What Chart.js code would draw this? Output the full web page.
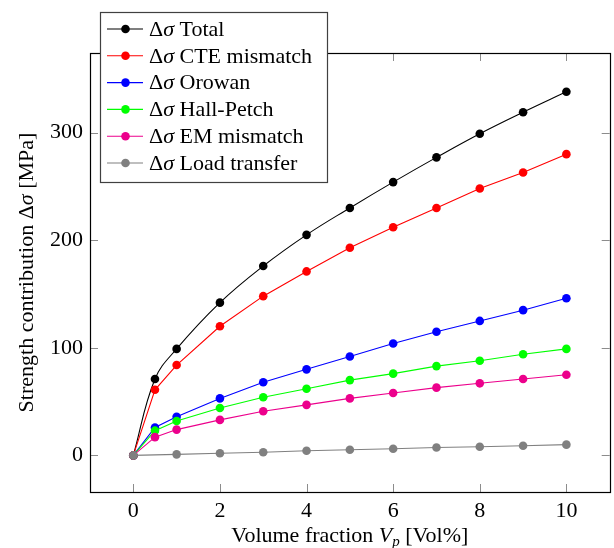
<!DOCTYPE html>
<html>
<head>
<meta charset="utf-8">
<script src="https://cdn.jsdelivr.net/npm/chart.js@4.4.1/dist/chart.umd.min.js"></script>
<style>
  html, body { margin: 0; padding: 0; background: #fff; }
  #wrap { width: 614px; height: 548px; }
</style>
</head>
<body>
<div id="wrap"><canvas id="chart" width="614" height="548"></canvas></div>
<script>
// volume fraction (Vol%)
const vp = [0, 0.5, 1, 2, 3, 4, 5, 6, 7, 8, 9, 10];
const vpLoad = [0, 1, 2, 3, 4, 5, 6, 7, 8, 9, 10];

// strength contributions in MPa
const total = [0, 71, 99, 142, 176, 205, 230, 254, 277, 299, 319, 338];
const cte = [0, 61, 84, 120, 148, 171, 193, 212, 230, 248, 263, 280];
const orowan = [0, 26, 36, 53, 68, 80, 92, 104, 115, 125, 135, 146];
const hallPetch = [0, 23, 32, 44, 54, 62, 70, 76, 83, 88, 94, 99];
const emMismatch = [0, 17, 24, 33, 41, 47, 53, 58, 63, 67, 71, 75];
const loadTransfer = [0, 1, 2, 3, 4.3, 5.3, 6.2, 7.3, 8, 9, 10];

const seriesNames = ['Total', 'CTE mismatch', 'Orowan', 'Hall-Petch', 'EM mismatch', 'Load transfer'];
const seriesColors = ['#000000', '#ff0000', '#0000ff', '#00ff00', '#ec008c', '#808080'];

const xTicks = [0, 2, 4, 6, 8, 10];
const yTicks = [0, 100, 200, 300];

const FONT = '"Liberation Serif", "Times New Roman", serif';
const FS = 22;

function pts(xs, ys) {
    return xs.map((x, i) => ({ x: x, y: ys[i] }));
}

const allData = [
    pts(vp, total),
    pts(vp, cte),
    pts(vp, orowan),
    pts(vp, hallPetch),
    pts(vp, emMismatch),
    pts(vpLoad, loadTransfer)
];

const datasets = allData.map((d, i) => ({
    label: seriesNames[i],
    data: d,
    borderColor: seriesColors[i],
    backgroundColor: seriesColors[i],
    pointBackgroundColor: seriesColors[i],
    pointBorderWidth: 0,
    pointRadius: 4.3,
    borderWidth: 1.1,
    tension: i === 0 ? 0.4 : 0,
    order: seriesNames.length - 1 - i
}));

// draws text pieces left to right, some italic
function drawPieces(ctx, pieces, x, y) {
    let w = 0;
    pieces.forEach(p => {
        ctx.font = (p.it ? 'italic ' : '') + (p.size || FS) + 'px ' + FONT;
        w += ctx.measureText(p.t).width;
    });
    let cx = x - w / 2;
    pieces.forEach(p => {
        ctx.font = (p.it ? 'italic ' : '') + (p.size || FS) + 'px ' + FONT;
        ctx.fillText(p.t, cx, y + (p.dy || 0));
        cx += ctx.measureText(p.t).width;
    });
}

const boxPlugin = {
    id: 'boxPlugin',
    afterDraw(chart) {
        const ctx = chart.ctx;
        const a = chart.chartArea;
        const xs = chart.scales.x;
        const ys = chart.scales.y;
        ctx.save();

        // ticks inside the box, on all four sides
        ctx.strokeStyle = '#8c8c8c';
        ctx.lineWidth = 1;
        const tl = 8;
        xTicks.forEach(v => {
            const px = Math.round(xs.getPixelForValue(v)) + 0.5;
            ctx.beginPath();
            ctx.moveTo(px, a.bottom); ctx.lineTo(px, a.bottom - tl);
            ctx.moveTo(px, a.top); ctx.lineTo(px, a.top + tl);
            ctx.stroke();
        });
        yTicks.forEach(v => {
            const py = Math.round(ys.getPixelForValue(v)) + 0.5;
            ctx.beginPath();
            ctx.moveTo(a.left, py); ctx.lineTo(a.left + tl, py);
            ctx.moveTo(a.right, py); ctx.lineTo(a.right - tl, py);
            ctx.stroke();
        });

        // axis frame
        ctx.strokeStyle = '#000';
        ctx.lineWidth = 1.2;
        ctx.strokeRect(Math.round(a.left) + 0.5, Math.round(a.top) + 0.5,
            Math.round(a.right - a.left), Math.round(a.bottom - a.top));

        // axis titles
        ctx.fillStyle = '#000';
        ctx.textBaseline = 'alphabetic';
        drawPieces(ctx, [
            { t: 'Volume fraction ' },
            { t: 'V', it: true },
            { t: 'p', it: true, size: 15, dy: 4 },
            { t: ' [Vol%]' }
        ], (a.left + a.right) / 2, 542);

        ctx.save();
        ctx.translate(33, (a.top + a.bottom) / 2);
        ctx.rotate(-Math.PI / 2);
        drawPieces(ctx, [
            { t: 'Strength contribution Δ' },
            { t: 'σ', it: true },
            { t: ' [MPa]' }
        ], 0, 0);
        ctx.restore();

        // legend box
        const lx = 100, ly = 12, lw = 227, lh = 170;
        ctx.fillStyle = '#fff';
        ctx.fillRect(lx, ly, lw, lh);
        ctx.strokeStyle = '#404040';
        ctx.lineWidth = 1.2;
        ctx.strokeRect(lx + 0.5, ly + 0.5, lw, lh);
        const rowH = 26.8;
        seriesNames.forEach((name, i) => {
            const cy = ly + 17 + i * rowH;
            ctx.strokeStyle = seriesColors[i];
            ctx.lineWidth = 1.1;
            ctx.beginPath();
            ctx.moveTo(lx + 7, cy); ctx.lineTo(lx + 43, cy);
            ctx.stroke();
            ctx.fillStyle = seriesColors[i];
            ctx.beginPath();
            ctx.arc(lx + 25.5, cy, 4.3, 0, Math.PI * 2);
            ctx.fill();
            ctx.fillStyle = '#000';
            ctx.textBaseline = 'middle';
            ctx.textAlign = 'left';
            let tx = lx + 49;
            ctx.font = FS + 'px ' + FONT;
            ctx.fillText('Δ', tx, cy + 1);
            tx += ctx.measureText('Δ').width;
            ctx.font = 'italic ' + FS + 'px ' + FONT;
            ctx.fillText('σ', tx, cy + 1);
            tx += ctx.measureText('σ').width;
            ctx.font = FS + 'px ' + FONT;
            ctx.fillText(' ' + name, tx, cy + 1);
        });
        ctx.restore();
    }
};

new Chart(document.getElementById('chart').getContext('2d'), {
    type: 'line',
    data: { datasets: datasets },
    options: {
        responsive: false,
        animation: false,
        events: [],
        layout: { padding: { top: 53, right: -2, left: 0, bottom: 0 } },
        plugins: {
            legend: { display: false },
            tooltip: { enabled: false }
        },
        scales: {
            x: {
                type: 'linear',
                min: -1,
                max: 11,
                afterBuildTicks: s => { s.ticks = xTicks.map(v => ({ value: v })); },
                afterFit: s => { s.height = 56; s.paddingLeft = 0; s.paddingRight = 0; },
                grid: { display: false, drawTicks: false },
                border: { display: false },
                ticks: {
                    color: '#000',
                    padding: 6,
                    maxRotation: 0,
                    font: { family: FONT, size: FS }
                }
            },
            y: {
                type: 'linear',
                min: -34,
                max: 374,
                afterBuildTicks: s => { s.ticks = yTicks.map(v => ({ value: v })); },
                afterFit: s => { s.width = 90; s.paddingTop = 0; s.paddingBottom = 0; },
                grid: { display: false, drawTicks: false },
                border: { display: false },
                ticks: {
                    color: '#000',
                    padding: 7,
                    font: { family: FONT, size: FS }
                }
            }
        }
    },
    plugins: [boxPlugin]
});
</script>
</body>
</html>
